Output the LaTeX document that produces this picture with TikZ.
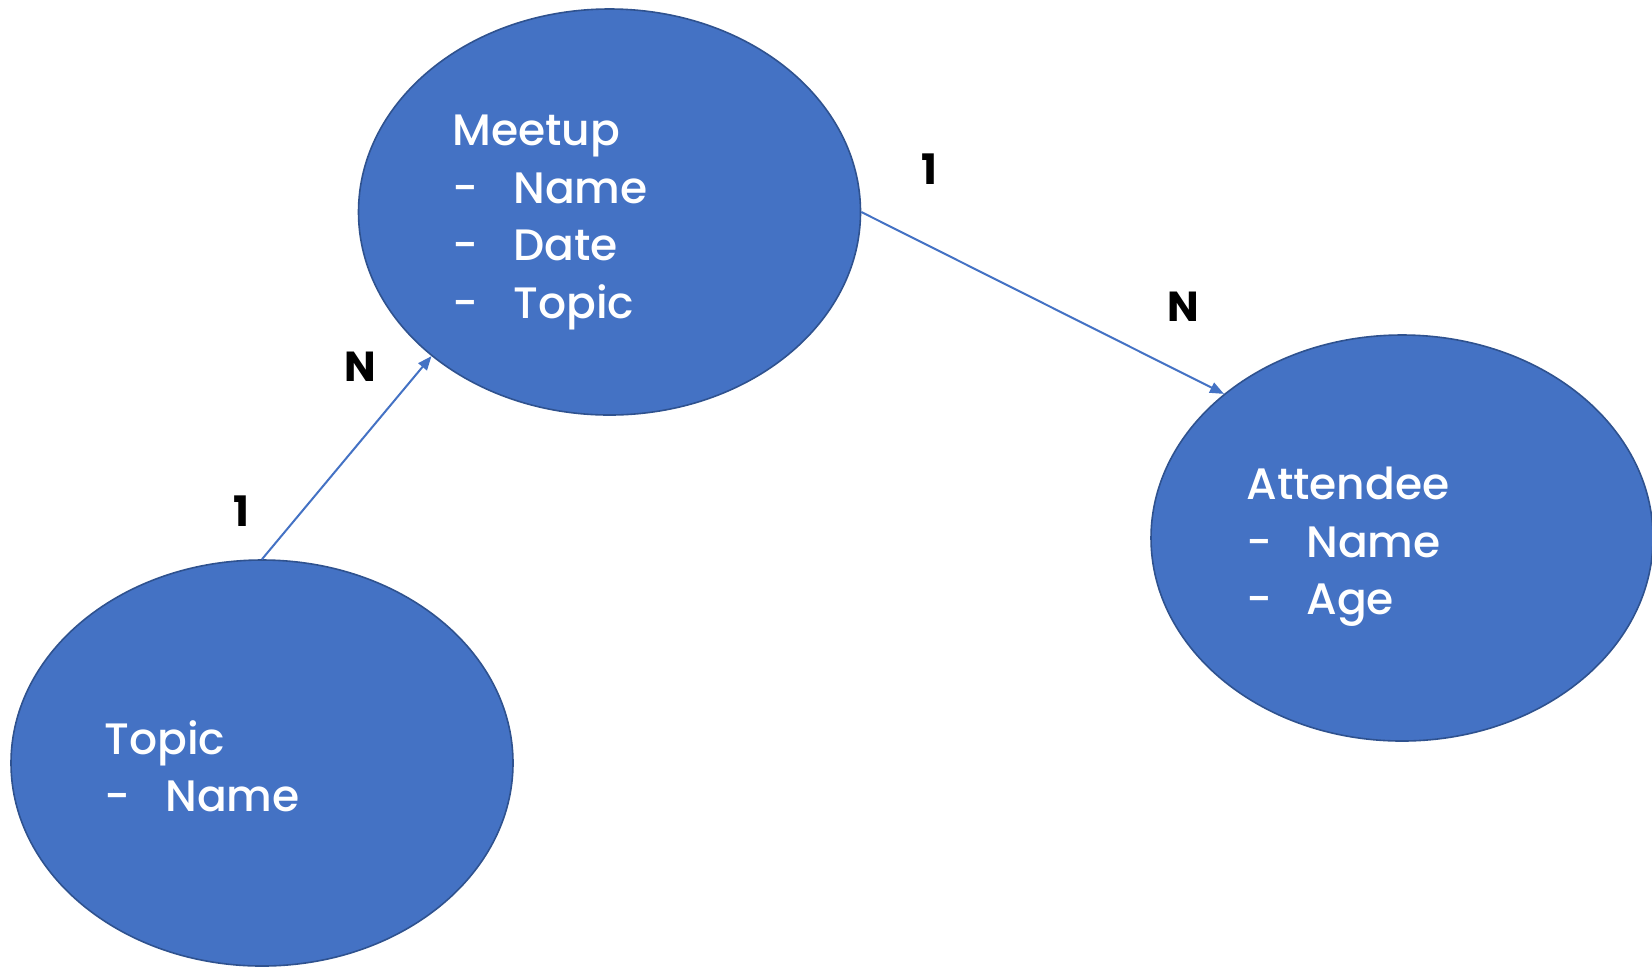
\documentclass[tikz,border=0pt]{standalone}
\usepackage{fontspec}
\setmainfont{Poppins}[UprightFont={* Medium},BoldFont={* Bold}]
\usetikzlibrary{shapes.geometric,arrows.meta}
\definecolor{fillblue}{HTML}{4472C4}
\definecolor{edgeblue}{HTML}{2F528F}
\begin{document}
\begin{tikzpicture}[x=0.5pt,y=-0.5pt,
  entity/.style={ellipse, draw=edgeblue, line width=0.8pt, fill=fillblue, minimum width=251pt, minimum height=203pt, inner sep=0pt},
  etext/.style={anchor=base west, inner sep=0pt, text=white, font=\fontsize{22}{27}\selectfont},
  card/.style={inner sep=0pt, font=\fontsize{21}{25}\selectfont\bfseries},
  rel/.style={draw=fillblue, line width=1pt, -{Triangle[length=7pt,width=5.5pt]}}]
\useasboundingbox (0,0) rectangle (1652,966);
\node[entity] (meetup) at (609.5,212) {};
\node[entity] (topic) at (262,763) {};
\node[entity] (attendee) at (1402,538) {};
% Meetup text
\node[etext] (m0) at (452,145) {Meetup};
\node[etext] (m1d) at (452,203) {-};
\node[etext] (m1) at (513,203) {Name};
\node[etext] (m2d) at (452,260) {-};
\node[etext] (m2) at (513,260) {Date};
\node[etext] (m3d) at (452,318) {-};
\node[etext] (m3) at (513,318) {Topic};
% Attendee text
\node[etext] (a0) at (1246,499) {Attendee};
\node[etext] (a1d) at (1246,557) {-};
\node[etext] (a1) at (1306,557) {Name};
\node[etext] (a2d) at (1246,614) {-};
\node[etext] (a2) at (1306,614) {Age};
% Topic text
\node[etext] (t0) at (104,754) {Topic};
\node[etext] (t1d) at (104,811) {-};
\node[etext] (t1) at (165,811) {Name};
% connectors
\draw[rel] (topic.north) -- (meetup.219);
\draw[rel] (meetup.east) -- (attendee.141);
% cardinalities
\node[card] (c1) at (929,169) {1};
\node[card] (c2) at (1183,307) {N};
\node[card] (c3) at (360,367) {N};
\node[card] (c4) at (241,511) {1};
\end{tikzpicture}
\end{document}
